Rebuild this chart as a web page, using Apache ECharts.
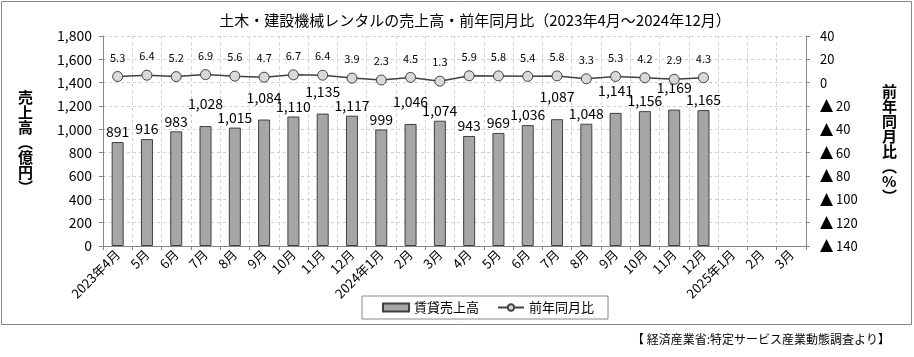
<!DOCTYPE html>
<html><head><meta charset="utf-8">
<script src="https://cdn.jsdelivr.net/npm/echarts@6/dist/echarts.min.js"></script>
<style>html,body{margin:0;padding:0;background:#fff}#c{width:914px;height:357px}</style>
</head><body><div id="c"></div>
<script>
const categories = ['2023年4月','5月','6月','7月','8月','9月','10月','11月','12月','2024年1月','2月','3月','4月','5月','6月','7月','8月','9月','10月','11月','12月','2025年1月','2月','3月'];
const sales = [891,916,983,1028,1015,1084,1110,1135,1117,999,1046,1074,943,969,1036,1087,1048,1141,1156,1169,1165];
const yoy = [5.3,6.4,5.2,6.9,5.6,4.7,6.7,6.4,3.9,2.3,4.5,1.3,5.9,5.8,5.4,5.8,3.3,5.3,4.2,2.9,4.3];
const raisedLabels = [3,5,7,10,15,17,19];

const FONT = '"Noto Sans CJK JP","Noto Sans",sans-serif';
const chart = echarts.init(document.getElementById('c'));
const fmt = v => Number(v).toLocaleString('en-US');
const barData = sales.map((v,i)=> raisedLabels.includes(i) ? {value:v,label:{offset:[0,-12]}} : v);

chart.setOption({
  animation:false,
  textStyle:{fontFamily:FONT},
  title:{text:'土木・建設機械レンタルの売上高・前年同月比（2023年4月～2024年12月）',left:470,textAlign:'center',top:8,
    textStyle:{fontSize:15,fontWeight:'normal',color:'#000',fontFamily:FONT}},
  grid:{left:103,right:108,top:36,bottom:111},
  legend:{left:362,top:296,width:236,height:14,itemGap:18,padding:[5,14,5,20],
    borderColor:'#888',borderWidth:1,itemWidth:26,itemHeight:8,
    textStyle:{fontSize:13,color:'#000',fontFamily:FONT},
    data:[{name:'賃貸売上高',icon:'rect'},{name:'前年同月比'}]},
  xAxis:{type:'category',data:categories,boundaryGap:true,
    axisLine:{lineStyle:{color:'#868686'}},
    axisTick:{show:true,interval:0,length:4,lineStyle:{color:'#868686'}},
    splitLine:{show:true,interval:0,lineStyle:{type:[3,3],color:'#d0d0d0'}},
    axisLabel:{interval:0,rotate:45,fontSize:13,color:'#000',margin:6,fontFamily:FONT}},
  yAxis:[
    {type:'value',min:0,max:1800,interval:200,position:'left',
     axisLine:{show:true,lineStyle:{color:'#868686'}},
     axisTick:{show:true,length:4,lineStyle:{color:'#868686'}},
     splitLine:{show:true,lineStyle:{type:[3,3],color:'#d0d0d0'}},
     axisLabel:{formatter:v=>fmt(v),fontSize:14,color:'#000',margin:11,fontFamily:FONT}},
    {type:'value',min:-140,max:40,interval:20,position:'right',
     axisLine:{show:true,lineStyle:{color:'#868686'}},
     axisTick:{show:true,length:4,lineStyle:{color:'#868686'}},
     splitLine:{show:false},
     axisLabel:{formatter:v=> v<0 ? '{t|▲} '+(-v) : String(v),fontSize:13,color:'#000',margin:14,align:'left',fontFamily:FONT,
       rich:{t:{fontSize:17,color:'#000',fontFamily:'"DejaVu Sans",sans-serif'}}}}
  ],
  series:[
    {name:'賃貸売上高',type:'bar',data:barData,barWidth:12,
     itemStyle:{color:'#a6a6a6',borderColor:'#404040',borderWidth:1},
     label:{show:true,position:'top',distance:3,fontSize:14,color:'#000',formatter:p=>fmt(p.value),fontFamily:FONT}},
    {name:'前年同月比',type:'line',yAxisIndex:1,data:yoy,symbol:'circle',symbolSize:10,
     lineStyle:{color:'#404040',width:1.5},
     itemStyle:{color:'#d9d9d9',borderColor:'#404040',borderWidth:1},
     label:{show:true,position:'top',distance:8,fontSize:11,color:'#000',formatter:p=>p.value.toFixed(1),fontFamily:FONT}}
  ],
  graphic:[
    {type:'rect',shape:{x:1.5,y:1.5,width:910,height:323},style:{fill:'none',stroke:'#888',lineWidth:1},silent:true,z:-1},
    {type:'text',left:18,top:90,style:{text:'売\n上\n高\n︵\n億\n円\n︶',lineHeight:15,fill:'#000',font:'bold 15px '+FONT}},
    {type:'text',left:882,top:84,style:{text:'前\n年\n同\n月\n比\n︵\n%\n︶',lineHeight:15,fill:'#000',font:'bold 15px '+FONT,align:'center'}},
    {type:'text',right:24,top:333,style:{text:'【 経済産業省:特定サービス産業動態調査より】',font:'12px '+FONT,fill:'#000'}}
  ]
});
</script></body></html>
